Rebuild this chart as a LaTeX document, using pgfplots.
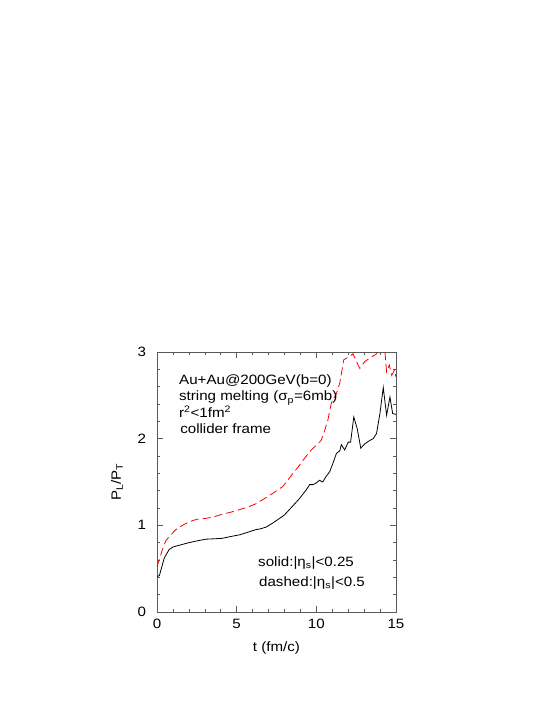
\documentclass[border=0pt]{standalone}
\usepackage{fontspec}
\setmainfont{Liberation Sans}[FakeStretch=1.12]
\usepackage{pgfplots}
\pgfplotsset{compat=1.18}

\begin{document}
\begin{tikzpicture}[font=\fontsize{13.5bp}{17bp}\selectfont]
	\useasboundingbox (-157bp,-103bp) rectangle (396bp,612bp);
	\begin{axis}[
			scale only axis,
			width=239bp,
			height=260bp,
			xmin=0, xmax=15,
			ymin=0, ymax=3,
			xtick={0,5,10,15},
			ytick={0,1,2,3},
			minor x tick num=4,
			minor y tick num=4,
			tick align=inside,
			major tick length=6bp,
			minor tick length=3bp,
			axis line style={black!65, line width=0.8bp},
			every tick/.style={black!65, line width=0.6bp},
			tick label style={/pgf/number format/assume math mode=true},
			yticklabel style={xshift=-7.5bp},
			xticklabel style={yshift=-3.5bp},
			xlabel={t (fm/c)},
			ylabel={P\textsubscript{L}/P\textsubscript{T}},
			every axis x label/.style={at={(axis description cs:0.5,0)}, yshift=-36bp, anchor=center},
			every axis y label/.style={at={(axis description cs:0,0.5)}, xshift=-40bp, rotate=90, anchor=center},
		]

		% solid: |eta_s| < 0.25
		\addplot [black, line width=0.8bp] table {
		0	0.41
		0.15	0.42
		0.45	0.62
		0.76	0.72
		1.0	0.75
		1.39	0.77
		2.0	0.80
		2.5	0.82
		3.07	0.84
		3.6	0.845
		4.1	0.85
		4.6	0.87
		5.17	0.89
		5.7	0.92
		6.2	0.95
		6.5	0.96
		6.85	0.98
		7.3	1.03
		7.69	1.08
		8.0	1.12
		8.3	1.18
		8.6	1.24
		8.95	1.31
		9.2	1.37
		9.37	1.41
		9.58	1.47
		9.8	1.47
		10.0	1.49
		10.2	1.52
		10.4	1.50
		10.6	1.56
		10.84	1.62
		11.05	1.72
		11.26	1.83
		11.47	1.86
		11.57	1.93
		11.78	1.87
		12.0	1.96
		12.15	1.96
		12.35	2.25
		12.56	2.12
		12.79	1.89
		13.04	1.94
		13.36	1.98
		13.57	2.00
		13.78	2.06
		13.99	2.29
		14.2	2.59
		14.41	2.27
		14.62	2.48
		14.79	2.29
		15.0	2.28
		};

		% dashed: |eta_s| < 0.5
		\addplot [red, line width=0.8bp, dash pattern=on 8bp off 4bp] table {
		0	0.52
		0.34	0.72
		0.55	0.82
		0.76	0.87
		1.18	0.95
		1.6	1.00
		2.02	1.04
		2.5	1.07
		3.07	1.08
		3.6	1.10
		4.11	1.13
		4.6	1.15
		5.17	1.18
		5.7	1.21
		6.22	1.25
		6.75	1.31
		7.27	1.37
		7.6	1.41
		7.9	1.45
		8.2	1.52
		8.53	1.60
		8.85	1.67
		9.16	1.75
		9.5	1.83
		9.79	1.89
		10.05	1.93
		10.3	1.98
		10.5	2.08
		10.73	2.22
		10.94	2.41
		11.26	2.52
		11.47	2.64
		11.72	2.91
		11.9	2.93
		12.1	2.95
		12.3	2.98
		12.52	2.89
		12.73	2.81
		13.04	2.89
		13.36	2.93
		13.78	2.98
		14.0	3.05
		14.2	3.08
		14.3	3.02
		14.41	2.77
		14.58	2.85
		14.73	2.73
		14.9	2.79
		15.0	2.71
		};

		\node[anchor=base west, inner sep=0pt] at (axis cs:1.38,2.62) {Au+Au@200GeV(b=0)};
		\node[anchor=base west, inner sep=0pt] at (axis cs:1.38,2.435) {string melting (σ\textsubscript{p}=6mb)};
		\node[anchor=base west, inner sep=0pt] at (axis cs:1.38,2.24) {r\textsuperscript{2}<1fm\textsuperscript{2}};
		\node[anchor=base west, inner sep=0pt] at (axis cs:1.45,2.055) {collider frame};
		\node[anchor=base west, inner sep=0pt] at (axis cs:6.34,0.53) {solid:|η\textsubscript{s}|<0.25};
		\node[anchor=base west, inner sep=0pt] at (axis cs:6.40,0.30) {dashed:|η\textsubscript{s}|<0.5};
	\end{axis}
\end{tikzpicture}
\end{document}
